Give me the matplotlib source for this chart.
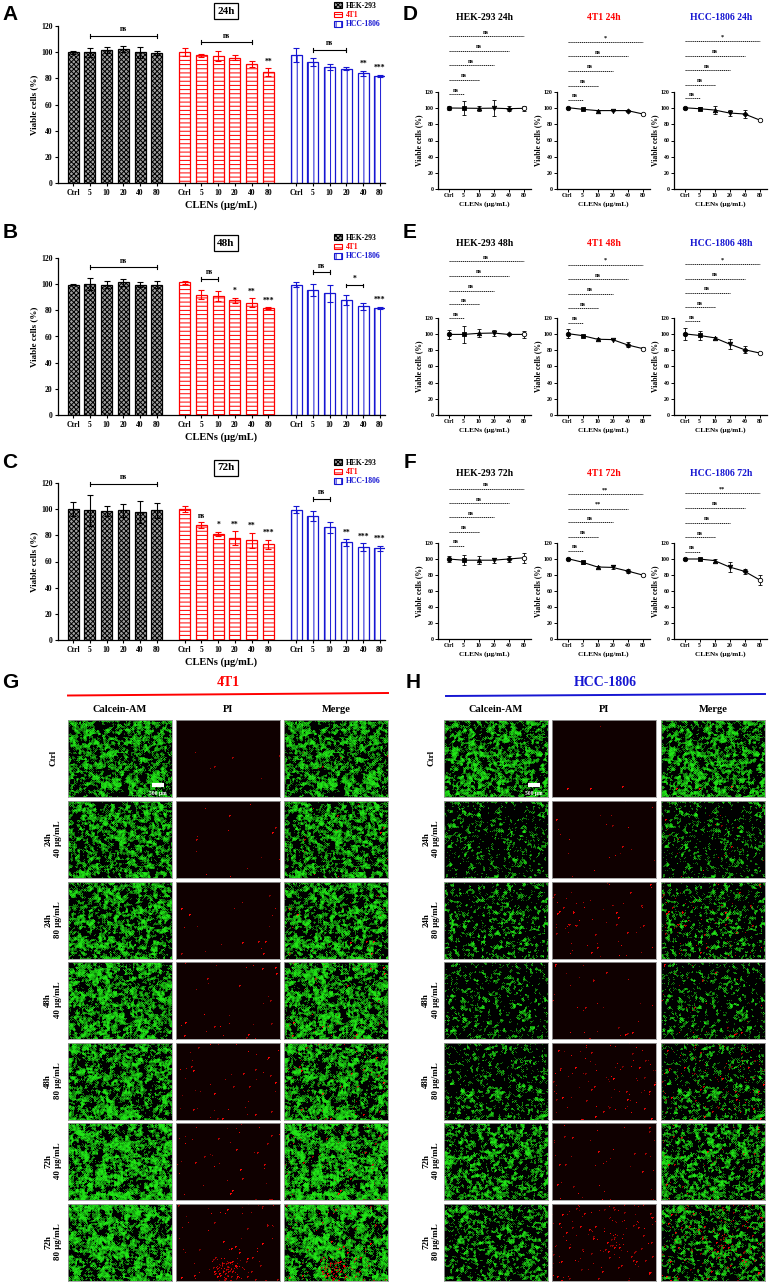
import numpy as np
import matplotlib
matplotlib.use("Agg")
import matplotlib.pyplot as plt
from matplotlib.patches import Patch

W, H = 775, 1282
plt.rcParams['font.family'] = ['Liberation Serif', 'DejaVu Serif']
plt.rcParams['font.weight'] = 'bold'
plt.rcParams['axes.labelweight'] = 'bold'
plt.rcParams['hatch.linewidth'] = 0.7
plt.rcParams['axes.linewidth'] = 0.9

BLUE = "#1616d2"
doses = ["Ctrl", "5", "10", "20", "40", "80"]
cells = ["HEK-293", "4T1", "HCC-1806"]
cell_colors = ["black", "red", BLUE]
cell_fill = ["#a0a0a0", "white", "white"]
cell_hatch = ["xxxxxxx", "----", "|||"]

# ---- bar chart values (A, B, C) ----
hek_24h = [100, 100, 101.4, 102.4, 99.9, 99.4]
hek_24h_err = [1.2, 3.4, 2.3, 2.6, 4.3, 1.2]
t4_24h = [100.3, 97.6, 97.3, 95.8, 90.7, 84.8]
t4_24h_err = [3.1, 1.2, 3.7, 2.0, 2.2, 2.8]
hcc_24h = [97.6, 92.2, 88.7, 87.4, 84.0, 81.8]
hcc_24h_err = [5.4, 3.1, 2.0, 1.0, 1.9, 1.0]

hek_48h = [99.7, 100.3, 99.7, 101.3, 99.7, 99.5]
hek_48h_err = [0.5, 4.5, 3.0, 3.0, 1.6, 2.8]
t4_48h = [101.3, 92.1, 90.9, 87.8, 85.8, 81.5]
t4_48h_err = [1.0, 3.6, 3.8, 2.0, 3.3, 0.7]
hcc_48h = [99.7, 95.7, 92.9, 87.6, 83.0, 81.7]
hcc_48h_err = [2.1, 4.6, 6.3, 3.8, 2.5, 1.0]

hek_72h = [100, 99.2, 98.7, 99.2, 98.0, 99.0]
hek_72h_err = [5.5, 11.8, 4.0, 5.0, 8.3, 5.8]
t4_72h = [100.3, 87.8, 81.0, 77.7, 76.2, 73.2]
t4_72h_err = [2.5, 2.1, 1.8, 5.3, 5.8, 3.3]
hcc_72h = [99.7, 95.0, 86.0, 74.7, 70.9, 70.1]
hcc_72h_err = [2.6, 3.7, 4.4, 2.5, 3.0, 2.1]

stars_24h = [[""] * 6, ["", "", "", "", "", "**"], ["", "", "", "", "**", "***"]]
stars_48h = [[""] * 6, ["", "", "", "*", "**", "***"], ["", "", "", "", "", "***"]]
stars_72h = [[""] * 6, ["", "ns", "*", "**", "**", "***"], ["", "", "", "**", "***", "***"]]
# (group, from dose, to dose, height, label)
brackets_24h = [(0, 1, 5, 112.4, "ns"), (1, 1, 4, 107.5, "ns"), (2, 1, 3, 101.7, "ns")]
brackets_48h = [(0, 1, 5, 113, "ns"), (1, 1, 2, 104, "ns"), (2, 1, 2, 109, "ns"), (2, 3, 4, 99, "*")]
brackets_72h = [(0, 1, 5, 119.5, "ns"), (2, 1, 2, 108, "ns")]

# ---- line chart values (D, E, F) ----
ln_hek_24 = [100.2, 100, 99.8, 100, 99.4, 99.8]
ln_hek_24_err = [3, 9, 3, 10, 3, 3]
ln_t4_24 = [100.7, 98.6, 97, 97, 97, 92.9]
ln_t4_24_err = [1, 1, 1, 1, 1, 1]
ln_hcc_24 = [100.5, 99.3, 97.7, 94, 92.8, 85.4]
ln_hcc_24_err = [1.5, 2, 5, 3.5, 5, 1]
ln_hek_48 = [99.7, 99.7, 101, 101.4, 99.7, 99.7]
ln_hek_48_err = [5.8, 11, 5, 4, 1, 4]
ln_t4_48 = [100.7, 98.2, 93.7, 93.3, 86.7, 82.2]
ln_t4_48_err = [6, 1, 1, 1, 3, 2]
ln_hcc_48 = [100.4, 98.4, 95.5, 87.8, 80.8, 76.7]
ln_hcc_48_err = [7, 5, 1, 6, 4, 1]
ln_hek_72 = [100, 98.5, 98.5, 98.5, 100, 101.5]
ln_hek_72_err = [3.3, 6, 5, 3, 4, 6]
ln_t4_72 = [100.5, 96, 90, 89.5, 85, 80]
ln_t4_72_err = [1, 2, 1.5, 2.5, 3, 1.5]
ln_hcc_72 = [100, 100, 98, 90, 84.6, 74]
ln_hcc_72_err = [1, 1, 2, 6, 3, 6]

sig_D = [[117, 135, 153, 171, 189], [110.7, 128, 146, 164, 182], [112, 129, 147, 165, 183]]
sig_E = [[119.6, 137, 154, 172, 190], [114, 132, 150, 168, 186], [116, 133, 151, 168.6, 186.5]]
sig_F = [[116.7, 134, 152, 169.6, 188], [110, 128, 145.7, 163, 180.8], [108.9, 127, 145.5, 163.8, 182.5]]
lab_D = [["ns"] * 5, ["ns", "ns", "ns", "ns", "*"], ["ns", "ns", "ns", "ns", "*"]]
lab_E = [["ns"] * 5, ["ns", "ns", "ns", "ns", "*"], ["ns", "ns", "ns", "ns", "*"]]
lab_F = [["ns"] * 5, ["ns", "ns", "ns", "**", "**"], ["ns", "ns", "ns", "ns", "**"]]

# ---- fluorescence panels (G, H): appearance settings for the textures ----
row_labels = ["Ctrl", "24h\n40 μg/mL", "24h\n80 μg/mL", "48h\n40 μg/mL",
              "48h\n80 μg/mL", "72h\n40 μg/mL", "72h\n80 μg/mL"]
col_labels = ["Calcein-AM", "PI", "Merge"]
cover_4t1 = [0.6, 0.58, 0.58, 0.66, 0.62, 0.72, 0.7]
blob_4t1 = [6, 6, 6, 9, 8, 12, 12]
dead_4t1 = [6, 14, 18, 30, 45, 40, 60]
cluster_4t1 = [0, 0, 0, 0, 0, 0, 90]
cover_hcc = [0.58, 0.22, 0.28, 0.22, 0.26, 0.5, 0.42]
blob_hcc = [5, 4, 4, 4, 4, 5, 5]
dead_hcc = [4, 20, 60, 30, 90, 40, 140]
cluster_hcc = [0, 0, 0, 0, 0, 0, 0]

fig = plt.figure(figsize=(W / 100, H / 100), dpi=100)


def px_axes(l, t, r, b):
    return fig.add_axes([l / W, 1 - b / H, (r - l) / W, (b - t) / H])


ov = fig.add_axes([0, 0, 1, 1])
ov.set_xlim(0, W)
ov.set_ylim(H, 0)
ov.axis('off')
ov.set_zorder(10)

offsets = [0, 6.65, 13.3]


def bar_panel(top, bot, title, ty, series, errs, stars, brackets):
    ax = px_axes(58, top, 385, bot)
    for g in range(3):
        x = offsets[g] + np.arange(6)
        ax.bar(x, series[g], width=0.66, facecolor=cell_fill[g], edgecolor=cell_colors[g],
               hatch=cell_hatch[g], linewidth=0.9, zorder=2)
        ax.errorbar(x, series[g], yerr=errs[g], fmt='none', ecolor=cell_colors[g],
                    elinewidth=0.8, capsize=2, capthick=0.8, zorder=3)
        for i in range(6):
            if stars[g][i]:
                ax.text(x[i], series[g][i] + errs[g][i] + 2, stars[g][i], ha='center',
                        va='bottom', fontsize=5.5)
    for g, i0, i1, y, lab in brackets:
        x0, x1 = offsets[g] + i0, offsets[g] + i1
        ax.plot([x0, x1], [y, y], color='black', lw=0.8, clip_on=False)
        ax.plot([x0, x0], [y - 1.5, y + 1.5], color='black', lw=0.8, clip_on=False)
        ax.plot([x1, x1], [y - 1.5, y + 1.5], color='black', lw=0.8, clip_on=False)
        ax.text((x0 + x1) / 2, y + 2, lab, ha='center', va='bottom', fontsize=5.5, clip_on=False)
    ax.set_xlim(-0.9, 18.6)
    ax.set_ylim(0, 120)
    ax.set_yticks(range(0, 121, 20))
    ax.set_xticks(np.concatenate([o + np.arange(6) for o in offsets]))
    ax.set_xticklabels(doses * 3)
    ax.tick_params(labelsize=5.5, length=2.5, width=0.8, pad=1.5)
    for s in ['top', 'right']:
        ax.spines[s].set_visible(False)
    ax.set_ylabel("Viable cells (%)", fontsize=6.5, labelpad=2)
    ax.set_xlabel("CLENs (μg/mL)", fontsize=7.5, labelpad=3)
    ov.text(226, ty, title, ha='center', va='center', fontsize=8,
            bbox=dict(boxstyle='square,pad=0.3', fc='white', ec='black', lw=0.9))
    handles = [Patch(facecolor=f, edgecolor=c, hatch=h, lw=0.8)
               for f, c, h in zip(cell_fill, cell_colors, cell_hatch)]
    ax.legend(handles, cells, loc='upper left', bbox_to_anchor=(334, ty - 9),
              bbox_transform=ov.transData, frameon=False, fontsize=5.5,
              labelcolor=cell_colors, handlelength=1.1, handleheight=0.8,
              labelspacing=0.15, handletextpad=0.4, borderaxespad=0, borderpad=0)
    return ax


bar_panel(26, 183, "24h", 11, [hek_24h, t4_24h, hcc_24h],
          [hek_24h_err, t4_24h_err, hcc_24h_err], stars_24h, brackets_24h)
bar_panel(258, 415, "48h", 243, [hek_48h, t4_48h, hcc_48h],
          [hek_48h_err, t4_48h_err, hcc_48h_err], stars_48h, brackets_48h)
bar_panel(483, 640, "72h", 468, [hek_72h, t4_72h, hcc_72h],
          [hek_72h_err, t4_72h_err, hcc_72h_err], stars_72h, brackets_72h)

markers = ['o', 's', '^', 'v', 'D', 'o']
line_lefts = [438, 557, 674]


def line_row(top, bot, ty, hours, series, errs, sigs, labs):
    for k in range(3):
        ax = px_axes(line_lefts[k], top, line_lefts[k] + 93, bot)
        x = np.arange(6)
        ax.plot(x, series[k], color='black', lw=0.8, zorder=2)
        ax.errorbar(x, series[k], yerr=errs[k], fmt='none', ecolor='black',
                    elinewidth=0.6, capsize=1.5, capthick=0.6, zorder=2)
        for i in range(6):
            ax.plot(x[i], series[k][i], marker=markers[i], ms=3.2 if i != 4 else 2.6,
                    mfc='white' if i == 5 else 'black', mec='black', mew=0.6, zorder=3)
        for j in range(5):
            y = sigs[k][j]
            ax.plot([0, j + 1], [y, y], color='black', lw=0.6, ls=(0, (1.5, 0.8)),
                    clip_on=False)
            ax.text((j + 1) / 2, y + 2, labs[k][j], ha='center', va='bottom',
                    fontsize=4.5, clip_on=False)
        ax.set_xlim(-0.7, 5.5)
        ax.set_ylim(0, 120)
        ax.set_yticks(range(0, 121, 20))
        ax.set_xticks(x)
        ax.set_xticklabels(doses)
        ax.tick_params(labelsize=4.2, length=2, width=0.7, pad=1)
        for s in ['top', 'right']:
            ax.spines[s].set_visible(False)
        ax.set_ylabel("Viable cells (%)", fontsize=5.5, labelpad=1.5)
        ax.set_xlabel("CLENs (μg/mL)", fontsize=5.2, labelpad=2)
        ov.text(line_lefts[k] + 47, ty, cells[k] + " " + hours, ha='center', va='center',
                fontsize=7, color=cell_colors[k])


line_row(92, 189, 18, "24h", [ln_hek_24, ln_t4_24, ln_hcc_24],
         [ln_hek_24_err, ln_t4_24_err, ln_hcc_24_err], sig_D, lab_D)
line_row(318, 415, 243, "48h", [ln_hek_48, ln_t4_48, ln_hcc_48],
         [ln_hek_48_err, ln_t4_48_err, ln_hcc_48_err], sig_E, lab_E)
line_row(543, 639, 473, "72h", [ln_hek_72, ln_t4_72, ln_hcc_72],
         [ln_hek_72_err, ln_t4_72_err, ln_hcc_72_err], sig_F, lab_F)


# ---- fluorescence textures ----
def smooth(a, k):
    for _ in range(k):
        a = (a + np.roll(a, 1, 0) + np.roll(a, -1, 0) + np.roll(a, 1, 1) + np.roll(a, -1, 1)) / 5
    return a


def micrographs(rng, cover, blob, ndead, ncluster, h=77, w=104):
    fine = smooth(rng.random((h, w)), 1)
    coarse = smooth(rng.random((h, w)), blob)
    grain = smooth(rng.random((h, w)), 1)
    f = (fine - fine.mean()) / fine.std() + 0.9 * (coarse - coarse.mean()) / coarse.std()
    q = np.quantile(f, 1 - cover)
    g = np.clip(0.35 + 0.22 * (f - q), 0, 0.85) * (f > q)
    g = g * (0.65 + 0.7 * (grain - grain.min()) / (grain.max() - grain.min()))
    g = np.clip(g, 0, 0.9)
    r = np.full((h, w), 0.06)
    ys = rng.integers(0, h, ndead)
    xs = rng.integers(0, w, ndead)
    if ncluster:
        ys = np.concatenate([ys, np.clip(rng.normal(0.85 * h, 0.08 * h, ncluster), 0, h - 1).astype(int)])
        xs = np.concatenate([xs, np.clip(rng.normal(0.5 * w, 0.08 * w, ncluster), 0, w - 1).astype(int)])
    v = rng.uniform(0.45, 1.0, len(ys))
    r[ys, xs] = v
    big = rng.random(len(ys)) < 0.4
    r[np.clip(ys[big] + 1, 0, h - 1), xs[big]] = v[big]
    r[ys[big], np.clip(xs[big] + 1, 0, w - 1)] = v[big]
    cal = np.dstack([0.14 * g, g, 0.1 * g])
    pi = np.dstack([r, 0.02 * r, 0.02 * r])
    dead = r > 0.3
    merge = cal.copy()
    merge[..., 0] = np.where(dead, r, merge[..., 0])
    merge[..., 1] = np.where(dead, 0.2 * g, merge[..., 1])
    return [cal, pi, merge]


def image_panel(rng, col_lefts, label_x, covers, blobs, deads, clusters):
    row_tops = [720, 801, 882, 962, 1043, 1123, 1204]
    for i, t in enumerate(row_tops):
        imgs = micrographs(rng, covers[i], blobs[i], deads[i], clusters[i])
        for c in range(3):
            ax = px_axes(col_lefts[c], t, col_lefts[c] + 104, t + 77)
            ax.imshow(np.clip(imgs[c], 0, 1), aspect='auto', interpolation='nearest')
            ax.set_xticks([])
            ax.set_yticks([])
            for s in ax.spines.values():
                s.set_color('#9a9a9a')
                s.set_linewidth(0.6)
        ov.text(label_x, t + 38, row_labels[i], rotation=90, ha='center', va='center',
                fontsize=6.5, linespacing=1.25, multialignment='center')
    for c in range(3):
        ov.text(col_lefts[c] + 52, 710, col_labels[c], ha='center', va='center', fontsize=7.5)
    sb = col_lefts[0] + 84
    ov.plot([sb, sb + 12], [785, 785], color='white', lw=3, solid_capstyle='butt')
    ov.text(sb + 6, 793, "500 μm", color='white', ha='center', va='center', fontsize=4)


rng = np.random.default_rng(7)
image_panel(rng, [68, 176, 284], 53, cover_4t1, blob_4t1, dead_4t1, cluster_4t1)
image_panel(rng, [444, 552, 661], 431, cover_hcc, blob_hcc, dead_hcc, cluster_hcc)

ov.text(228, 683, "4T1", color='red', ha='center', va='center', fontsize=10)
ov.plot([68, 388], [695.5, 693], color='red', lw=1.4)
ov.text(605, 683, "HCC-1806", color=BLUE, ha='center', va='center', fontsize=10)
ov.plot([446, 765], [696, 694], color=BLUE, lw=1.4)

for lab, x, y in [("A", 10, 15), ("B", 10, 233), ("C", 10, 463),
                  ("D", 410, 15), ("E", 410, 233), ("F", 410, 463),
                  ("G", 10, 682), ("H", 413, 682)]:
    ov.text(x, y, lab, ha='center', va='center', fontsize=15,
            family='Liberation Sans', weight='bold')

fig.savefig("out.png", dpi=100)
